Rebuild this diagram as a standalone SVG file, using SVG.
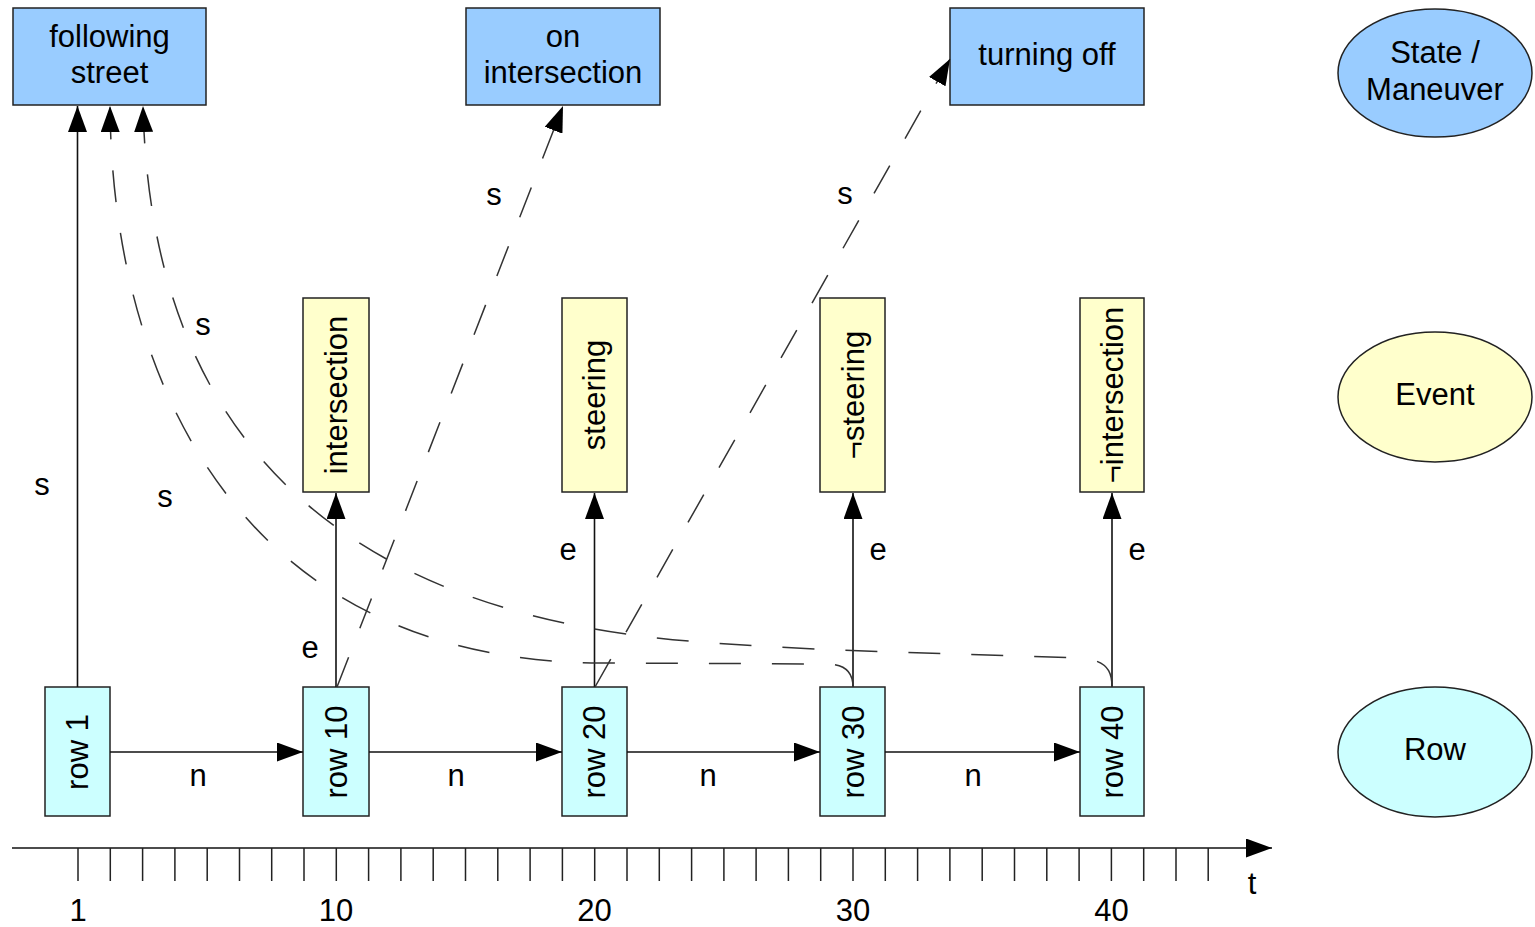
<svg xmlns="http://www.w3.org/2000/svg" width="1535" height="927" viewBox="0 0 1535 927">
  <style>
    text { font-family: "Liberation Sans", Arial, sans-serif; font-size: 31px; fill: #000; }
    .mid { text-anchor: middle; }
    .state { fill: #99ccff; stroke: #222; stroke-width: 1.5; }
    .event { fill: #ffffcc; stroke: #222; stroke-width: 1.5; }
    .row { fill: #ccffff; stroke: #222; stroke-width: 1.5; }
    .solid { fill: none; stroke: #111; stroke-width: 1.6; }
    .dash { fill: none; stroke: #333; stroke-width: 1.5; stroke-dasharray: 32 31; }
    .tick { stroke: #222; stroke-width: 1.5; }
  </style>
  <defs>
    <marker id="ah" markerUnits="userSpaceOnUse" viewBox="0 0 26 19" markerWidth="26" markerHeight="19" refX="26" refY="9.5" orient="auto">
      <path d="M0,0 L26,9.5 L0,19 z" fill="#000"/>
    </marker>
  </defs>
  <rect width="1535" height="927" fill="#fff"/>

  <!-- states / maneuvers -->
  <g id="following-street">
    <rect class="state" x="13" y="8" width="193" height="97"/>
    <text class="mid" x="109.5" y="47">following</text>
    <text class="mid" x="109.5" y="83">street</text>
  </g>
  <g id="on-intersection">
    <rect class="state" x="466" y="8" width="194" height="97"/>
    <text class="mid" x="563" y="47">on</text>
    <text class="mid" x="563" y="83">intersection</text>
  </g>
  <g id="turning-off">
    <rect class="state" x="950" y="8" width="194" height="97"/>
    <text class="mid" x="1047" y="65">turning off</text>
  </g>

  <!-- events -->
  <g id="ev-intersection">
    <rect class="event" x="303" y="298" width="66" height="194"/>
    <text class="mid" transform="translate(346.5,395) rotate(-90)">intersection</text>
  </g>
  <g id="ev-steering">
    <rect class="event" x="562" y="298" width="65" height="194"/>
    <text class="mid" transform="translate(605,395) rotate(-90)">steering</text>
  </g>
  <g id="ev-not-steering">
    <rect class="event" x="820" y="298" width="65" height="194"/>
    <text class="mid" transform="translate(863.5,395) rotate(-90)">¬steering</text>
  </g>
  <g id="ev-not-intersection">
    <rect class="event" x="1080" y="298" width="64" height="194"/>
    <text class="mid" transform="translate(1122.5,395) rotate(-90)">¬intersection</text>
  </g>

  <!-- rows -->
  <g id="row-1">
    <rect class="row" x="45" y="687" width="65" height="129"/>
    <text class="mid" transform="translate(88,752) rotate(-90)">row 1</text>
  </g>
  <g id="row-10">
    <rect class="row" x="303" y="687" width="66" height="129"/>
    <text class="mid" transform="translate(346.5,752) rotate(-90)">row 10</text>
  </g>
  <g id="row-20">
    <rect class="row" x="562" y="687" width="65" height="129"/>
    <text class="mid" transform="translate(605,752) rotate(-90)">row 20</text>
  </g>
  <g id="row-30">
    <rect class="row" x="820" y="687" width="65" height="129"/>
    <text class="mid" transform="translate(863.5,752) rotate(-90)">row 30</text>
  </g>
  <g id="row-40">
    <rect class="row" x="1080" y="687" width="64" height="129"/>
    <text class="mid" transform="translate(1122.5,752) rotate(-90)">row 40</text>
  </g>

  <!-- legend -->
  <g id="legend-state">
    <ellipse class="state" cx="1435" cy="73" rx="97" ry="64"/>
    <text class="mid" x="1435" y="63">State /</text>
    <text class="mid" x="1435" y="100">Maneuver</text>
  </g>
  <g id="legend-event">
    <ellipse class="event" cx="1435" cy="397" rx="97" ry="65"/>
    <text class="mid" x="1435" y="405">Event</text>
  </g>
  <g id="legend-row">
    <ellipse class="row" cx="1435" cy="752" rx="97" ry="65"/>
    <text class="mid" x="1435" y="760">Row</text>
  </g>

  <!-- connectors -->
  <g id="connectors">
    <!-- next-row transitions -->
    <line class="solid" x1="110" y1="752" x2="303" y2="752" marker-end="url(#ah)"/>
    <line class="solid" x1="369" y1="752" x2="562" y2="752" marker-end="url(#ah)"/>
    <line class="solid" x1="627" y1="752" x2="820" y2="752" marker-end="url(#ah)"/>
    <line class="solid" x1="885" y1="752" x2="1080" y2="752" marker-end="url(#ah)"/>
    <!-- row to state / event -->
    <line class="solid" x1="77.5" y1="687" x2="77.5" y2="106" marker-end="url(#ah)"/>
    <line class="solid" x1="336" y1="687" x2="336" y2="493" marker-end="url(#ah)"/>
    <line class="solid" x1="594.5" y1="687" x2="594.5" y2="493" marker-end="url(#ah)"/>
    <line class="solid" x1="853" y1="687" x2="853" y2="493" marker-end="url(#ah)"/>
    <line class="solid" x1="1112" y1="687" x2="1112" y2="493" marker-end="url(#ah)"/>
    <!-- dashed state transitions -->
    <line class="dash" x1="337" y1="687" x2="563" y2="106" marker-end="url(#ah)"/>
    <line class="dash" x1="595" y1="687" x2="950" y2="59" marker-end="url(#ah)"/>
    <path class="dash" d="M853,687 C853,672 846,664 826,664 L600,663 C240,661 112,380 110,106" marker-end="url(#ah)"/>
    <path class="dash" d="M1112,687 C1112,668 1104,660 1080,658 C900,652 800,650 700,642 C300,612 150,400 143,106" marker-end="url(#ah)"/>
    <!-- labels -->
    <text class="mid" x="42" y="495">s</text>
    <text class="mid" x="165" y="507">s</text>
    <text class="mid" x="203" y="335">s</text>
    <text class="mid" x="494" y="205">s</text>
    <text class="mid" x="845" y="204">s</text>
    <text class="mid" x="310" y="658">e</text>
    <text class="mid" x="568" y="560">e</text>
    <text class="mid" x="878" y="560">e</text>
    <text class="mid" x="1137" y="560">e</text>
    <text class="mid" x="198" y="786">n</text>
    <text class="mid" x="456" y="786">n</text>
    <text class="mid" x="708" y="786">n</text>
    <text class="mid" x="973" y="786">n</text>
  </g>

  <!-- time axis -->
  <g id="time-axis">
    <line class="solid" x1="12" y1="848" x2="1272" y2="848" marker-end="url(#ah)"/>
    <path class="tick" d="M78,848V881 M110.3,848V881 M142.6,848V881 M174.9,848V881 M207.2,848V881 M239.5,848V881 M271.7,848V881 M304,848V881 M336.3,848V881 M368.6,848V881 M400.9,848V881 M433.2,848V881 M465.5,848V881 M497.8,848V881 M530.1,848V881 M562.4,848V881 M594.7,848V881 M627,848V881 M659.3,848V881 M691.6,848V881 M723.9,848V881 M756.1,848V881 M788.4,848V881 M820.7,848V881 M853,848V881 M885.3,848V881 M917.6,848V881 M949.9,848V881 M982.2,848V881 M1014.5,848V881 M1046.8,848V881 M1079.1,848V881 M1111.4,848V881 M1143.7,848V881 M1176,848V881 M1208.2,848V881"/>
    <text class="mid" x="78" y="921">1</text>
    <text class="mid" x="336" y="921">10</text>
    <text class="mid" x="594.5" y="921">20</text>
    <text class="mid" x="853" y="921">30</text>
    <text class="mid" x="1111.5" y="921">40</text>
    <text class="mid" x="1252" y="894">t</text>
  </g>
</svg>
